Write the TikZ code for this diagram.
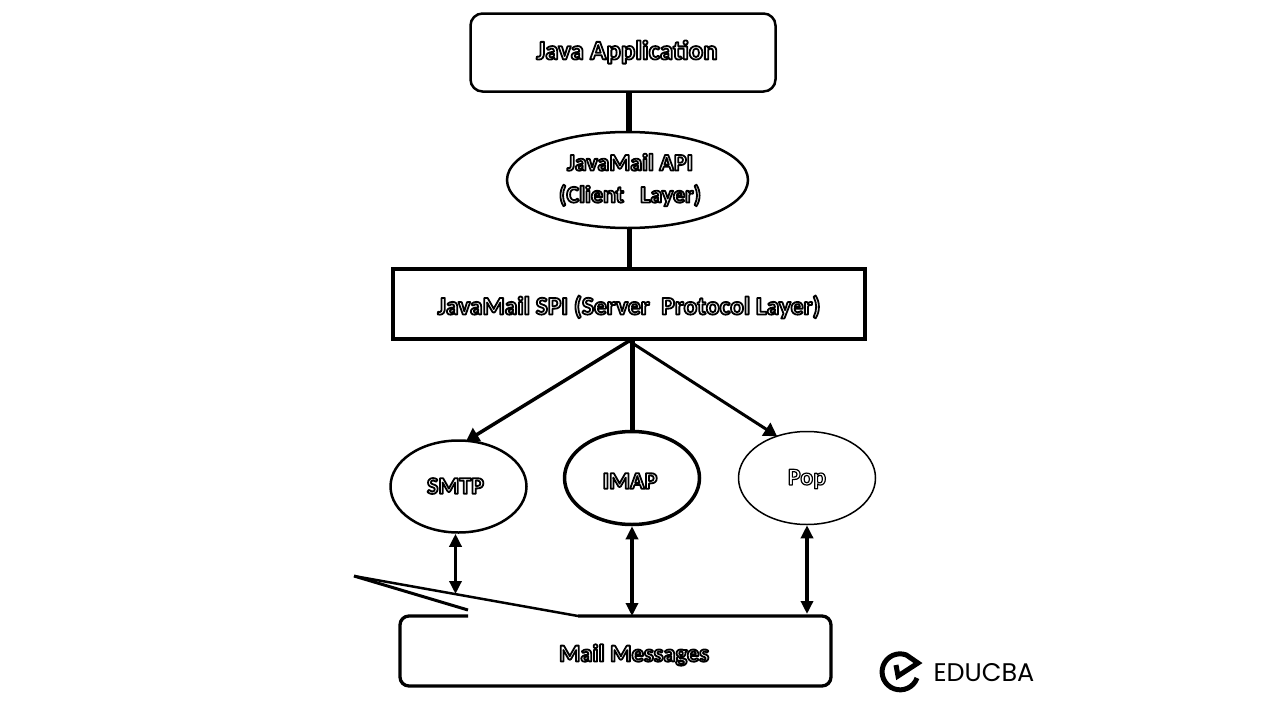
\documentclass[tikz,border=0pt]{standalone}
\usepackage{fontspec}
\setmainfont{Carlito}
\newfontfamily\logofont{Poppins}
\usetikzlibrary{arrows.meta,shapes.geometric}
\newcommand{\outl}[2][1.8]{\special{pdf:code q 1 1 1 rg 0 0 0 RG #1 w 1 j 2 Tr}#2\special{pdf:code Q}}
\tikzset{
  boxtext/.style={font=\bfseries\fontsize{#1}{30}\selectfont,align=center},
  layerell/.style={draw,ellipse,inner sep=0pt,line width=#1},
  bigtip/.style={-{Triangle[length=13pt,width=15pt]}},
  twotip/.style={{Triangle[length=13pt,width=12pt]}-{Triangle[length=13pt,width=12pt]},line width=3.5pt}
}
\begin{document}
\begin{tikzpicture}[x=1pt,y=-1pt]
  \useasboundingbox (0,0) rectangle (1280,720);

  % java application
  \node[draw,rounded corners=12pt,line width=2.5pt,minimum width=305pt,minimum height=78pt] (java) at (623,52.5) {};
  \node[boxtext=27] (javatext) at (627,52) {\outl{Java Application}};

  % client layer
  \node[layerell=2.5pt,minimum width=241pt,minimum height=96pt] (api) at (627.5,180) {};
  \node[boxtext=24,font=\bfseries\fontsize{24}{31}\selectfont] (apitext) at (630,180) {\outl{JavaMail API}\\[1pt]\outl{(Client\ \ \ Layer)}};

  % server protocol layer
  \node[draw,line width=4pt,minimum width=472pt,minimum height=70pt] (spi) at (629,304) {};
  \node[boxtext=25.5] (spitext) at (629,307) {\outl{JavaMail SPI (Server\ \ Protocol Layer)}};

  % protocols
  \node[layerell=2.5pt,minimum width=136pt,minimum height=92pt] (smtp) at (458.5,486.5) {};
  \node[boxtext=24] (smtptext) at (455.5,486) {\outl{SMTP}};
  \node[layerell=3.5pt,minimum width=135pt,minimum height=93pt] (imap) at (632,478) {};
  \node[boxtext=24] (imaptext) at (630,481) {\outl{IMAP}};
  \node[layerell=1.5pt,minimum width=137pt,minimum height=93pt] (pop) at (807,478) {};
  \node[boxtext=24] (poptext) at (807,479) {\outl[1.2]{Pop}};

  % mail messages, outline drawn below
  \node[minimum width=431pt,minimum height=70pt,inner sep=0pt,outer sep=0pt] (mail) at (615.5,651) {};
  \node[boxtext=24.5] (mailtext) at (634,655) {\outl{Mail Messages}};
  \coordinate (tip) at (354,576);
  \coordinate (gapl) at (468,616);
  \coordinate (wedgeend) at (468,610);
  \coordinate (gapr) at (578,616);
  \coordinate (smtpend) at (455.5,594);
  \draw[line width=3pt,line join=miter,miter limit=2] (wedgeend) -- (tip);
  \draw[line width=2.5pt,line join=round] (tip) -- (gapr);
  \draw[line width=3.3pt,rounded corners=9pt] (gapr) -- (mail.north east) -- (mail.south east) -- (mail.south west) -- (mail.north west) -- (gapl);

  % links between layers
  \draw[line width=6pt] (java.south -| spi.north) -- (api.north -| spi.north);
  \draw[line width=5pt] (api.south -| spi.north) -- (spi.north);
  \draw[bigtip,line width=3.5pt,shorten >=-3pt] (spi.south) -- (smtp.78);
  \draw[line width=5pt] (spi.south -| imap.north) -- (imap.north);
  \draw[bigtip,line width=3pt,shorten >=-1pt] (spi.south) -- (pop.126);

  % two way arrows
  \draw[twotip] (smtp.south -| smtpend) -- (smtpend);
  \draw[twotip] (imap.south) -- (imap.south |- mail.north);
  \draw[twotip,shorten >=2pt] (pop.south) -- (pop.south |- mail.north);

  % logo
  \coordinate (logostart) at (917,678);
  \draw[line width=5pt] (logostart) arc[start angle=-20,end angle=-290,radius=18pt] -- (918,663) -- (898,676) -- (896,665);
  \node[font=\logofont\fontsize{25.5}{30}\selectfont,inner sep=0pt] (logo) at (984,673) {EDUCBA};
\end{tikzpicture}
\end{document}
